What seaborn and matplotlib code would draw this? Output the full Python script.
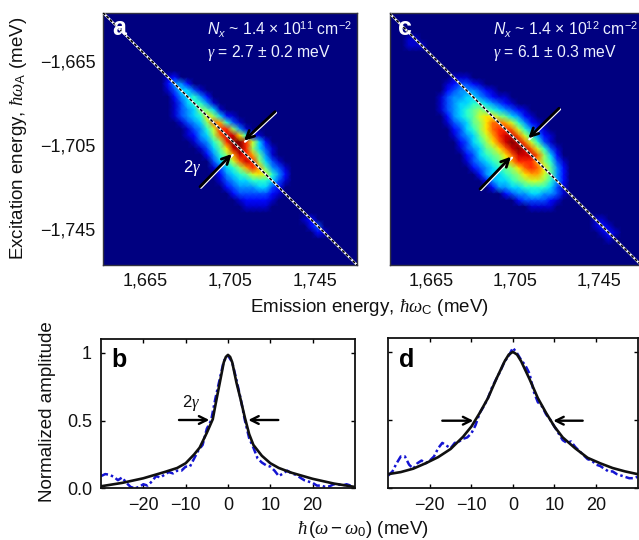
import numpy as np
import matplotlib
matplotlib.use("Agg")
import matplotlib.pyplot as plt
import seaborn as sns

# figure size in pixels
W = 639
H = 540

# heatmap cells, row: (first column, hex levels 0-f), everything else is 0
GRID_SIZE = 40
map_a = {
    10: (10, "12"),
    11: (10, "2442"),
    12: (10, "135531"),
    13: (11, "245642"),
    14: (11, "1356641"),
    15: (11, "13458751"),
    16: (11, "1345 6a8521".replace(" ", "")),
    17: (12, "13458cb631"),
    18: (13, "13469dd841"),
    19: (13, "12458ceea621"),
    20: (14, "13468dffd952"),
    21: (15, "1357aefd8531"),
    22: (16, "2468bedb741"),
    23: (17, "3569ced8531"),
    24: (17, "13568bdb7431"),
    25: (18, "245679a9642"),
    26: (18, "13455666531"),
    27: (19, "234445532"),
    28: (20, "23333321"),
    29: (21, "122221"),
    30: (22, "1111"),
    32: (31, "12"),
    33: (32, "23"),
    34: (33, "21"),
}
map_c = {
    4: (3, "11"),
    5: (3, "111"),
    10: (10, "111"),
    11: (9, "123321"),
    12: (9, "23444321"),
    13: (8, "13445543211"),
    14: (8, "134556654321"),
    15: (8, "13456787654321"),
    16: (9, "245679aa875421"),
    17: (9, "134578accb96421"),
    18: (10, "23568acddc96421"),
    19: (10, "134579bdeec96421"),
    20: (11, "23568acefec9631"),
    21: (11, "134578acefec9631"),
    22: (12, "235678aceeec852"),
    23: (12, "1345679bdddb8631"),
    24: (13, "2345678acdca742"),
    25: (14, "2455678abb9742"),
    26: (15, "2455678998642"),
    27: (16, "244556666531"),
    28: (18, "2344554431"),
    29: (20, "2333321"),
    30: (22, "1111"),
    32: (32, "11"),
    33: (32, "121"),
    34: (33, "121"),
    35: (34, "1"),
}

# axis ranges and ticks of the two maps (meV)
emission_range = [1645, 1765]
excitation_range = [-1642, -1762]
emission_ticks = [1665, 1705, 1745]
excitation_ticks = [-1665, -1705, -1745]
minor_emission = [1685, 1725]

# line cuts
detuning = list(range(-30, 31))
cut_b = [.09, .105, .10, .085, .06, .08, .04, .01, .0, .01, .03, .02, .05, .09, .08, .10,
         .12, .11, .13, .13, .16, .16, .22, .28, .32, .44, .50, .66, .80, .94, .98, .93,
         .80, .66, .50, .37, .30, .22, .19, .17, .16, .13, .09, .11, .13, .11, .10, .08,
         .06, .05, .04, .02, .02, .01, .015, .03, .03, .02, .03, .02, .0]
fit_x_b = [-30, -25, -20, -15, -12, -10, -8, -6.7, -5, -3.6, -3, -2, -1, -.5, 0,
           .5, 1, 2, 2.8, 4, 5, 6, 8, 10, 12, 15, 20, 25, 30]
fit_b = [.015, .04, .074, .12, .15, .185, .25, .30, .41, .51, .61, .77, .93, .97, .985,
         .97, .93, .78, .68, .52, .40, .32, .24, .185, .15, .115, .07, .035, .01]
cut_d = [.09, .12, .18, .23, .23, .17, .14, .18, .20, .18, .20, .23, .29, .33, .31, .29,
         .33, .34, .36, .37, .40, .46, .55, .60, .66, .74, .80, .86, .93, .97, 1.03, .99,
         .94, .90, .84, .71, .63, .60, .54, .50, .45, .40, .35, .33, .34, .30, .27, .24,
         .21, .20, .17, .16, .14, .12, .12, .10, .09, .08, .07, .07, .08]
fit_x_d = [-30, -27, -24, -21, -18, -15, -12, -10, -8, -6, -4, -2, -1, 0,
           1, 2, 4, 6, 8, 10, 12, 15, 18, 21, 24, 27, 30]
fit_d = [.10, .115, .14, .18, .225, .285, .375, .45, .55, .66, .80, .93, .98, 1.0,
         .98, .93, .80, .66, .55, .45, .37, .29, .22, .18, .145, .12, .10]

cut_xticks = [-20, -10, 0, 10, 20]
cut_yticks = [0, .5, 1]
cut_ytick_labels = ["0.0", "0.5", "1"]

sns.set_style("ticks")
plt.rcParams["font.family"] = ["Liberation Sans", "DejaVu Sans"]
plt.rcParams["mathtext.fontset"] = "custom"
plt.rcParams["mathtext.rm"] = "Liberation Sans"
plt.rcParams["mathtext.it"] = "Liberation Serif:italic"
plt.rcParams["mathtext.sf"] = "Liberation Sans:italic"
plt.rcParams["mathtext.bf"] = "Liberation Sans:bold"
plt.rcParams["mathtext.fallback"] = "stix"

fig = plt.figure(figsize=(W / 100, H / 100), dpi=100)


def add_axes_px(left, top, right, bottom):
    return fig.add_axes([left / W, 1 - bottom / H, (right - left) / W, (bottom - top) / H])


def fig_text(x, y, s, **kw):
    fig.text(x / W, 1 - y / H, s, **kw)


def arrow(x0, y0, x1, y1, color="black", lw=2.0):
    fig.add_artist(matplotlib.patches.FancyArrowPatch(
        (x0 / W, 1 - y0 / H), (x1 / W, 1 - y1 / H), transform=fig.transFigure,
        arrowstyle="->", mutation_scale=14, lw=lw, color=color,
        shrinkA=0, shrinkB=0, zorder=10))


def build_grid(rows):
    grid = np.zeros((GRID_SIZE, GRID_SIZE))
    for r, (c, levels) in rows.items():
        for i, ch in enumerate(levels):
            grid[r, c + i] = int(ch, 16) / 15
    return grid


def draw_map(ax, rows, show_y):
    sns.heatmap(build_grid(rows), ax=ax, cmap="jet", vmin=0, vmax=1, cbar=False,
                xticklabels=False, yticklabels=False, shading="gouraud")
    last = GRID_SIZE - 1
    ax.set_xlim(0, last)
    ax.set_ylim(last, 0)

    # energy to grid position
    def col(e):
        return (e - emission_range[0]) / (emission_range[1] - emission_range[0]) * last

    def row(e):
        return (e - excitation_range[0]) / (excitation_range[1] - excitation_range[0]) * last

    # diagonal
    dx = [col(emission_range[0]), col(emission_range[1])]
    dy = [row(excitation_range[0]), row(excitation_range[1])]
    ax.plot(dx, dy, color="white", lw=1.6, zorder=3)
    ax.plot(dx, dy, color="black", lw=1.1, ls=(0, (2, 1.2)), zorder=4)

    ax.set_xticks([col(e) for e in sorted(emission_ticks + minor_emission)])
    ax.set_xticklabels(["1,665", "", "1,705", "", "1,745"])
    ax.set_yticks([row(e) for e in excitation_ticks])
    if show_y:
        ax.set_yticklabels([f"\u2212{abs(e):,}" for e in excitation_ticks])
    else:
        ax.set_yticklabels([])
    ax.tick_params(direction="in", length=2.5, width=.8, labelsize=13, top=True, right=True,
                   color="#222222", labelcolor="#111111", pad=5.5, bottom=True, left=True)
    for side in ax.spines.values():
        side.set_visible(True)
        side.set_linewidth(1.0)
        side.set_color("#333340")


def draw_cut(ax, cut, fit_x, fit_y, show_y):
    sns.lineplot(x=detuning, y=cut, ax=ax, color="#1414d2", lw=1.8, linestyle=(0, (3, 1.2, 1, 1.2)),
                 errorbar=None)
    sns.lineplot(x=fit_x, y=fit_y, ax=ax, color="#101010", lw=1.9, errorbar=None)
    ax.set_xlim(-30, 30)
    ax.set_ylim(0, 1.1)
    ax.set_xticks(cut_xticks)
    ax.set_xticklabels([str(t).replace("-", "\u2212") for t in cut_xticks])
    ax.set_yticks(cut_yticks)
    ax.set_yticklabels(cut_ytick_labels if show_y else [])
    ax.tick_params(direction="in", length=3, width=1, labelsize=13, top=True, right=True,
                   bottom=True, left=True, color="black", labelcolor="#111111", pad=6.5)
    for side in ax.spines.values():
        side.set_visible(True)
        side.set_linewidth(1.3)
        side.set_color("#111111")


ax_a = add_axes_px(103, 12.7, 357, 265)
ax_c = add_axes_px(389.5, 13.3, 641, 265)
ax_b = add_axes_px(101, 339.3, 355, 488.3)
ax_d = add_axes_px(388.3, 338.3, 637.5, 487.7)

draw_map(ax_a, map_a, True)
draw_map(ax_c, map_c, False)
draw_cut(ax_b, cut_b, fit_x_b, fit_b, True)
draw_cut(ax_d, cut_d, fit_x_d, fit_d, False)

# arrows on the maps, white edge first
for x0, y0, x1, y1 in [(275, 111.7, 244, 140.7), (200, 186.7, 231.7, 154),
                       (559, 108.3, 528.3, 138.3), (480, 189, 511, 156.7)]:
    fig.add_artist(plt.Line2D([(x0 + 1) / W, (x1 + 1) / W], [1 - (y0 + 1) / H, 1 - (y1 + 1) / H],
                              color="white", lw=1.6, zorder=9))
    arrow(x0, y0, x1, y1)

# arrows on the cuts
arrow(179, 420, 209.3, 420, lw=1.7)
arrow(278.3, 420, 248.3, 420, lw=1.7)
arrow(442.3, 420.7, 473.3, 420.7, lw=1.7)
arrow(582.7, 420.7, 553.3, 420.7, lw=1.7)

# panel letters
for x, y, s, c in [(112, 35, "a", "white"), (398, 35, "c", "white"),
                   (111.5, 366.7, "b", "black"), (399.3, 366.7, "d", "black")]:
    fig_text(x, y, s, color=c, fontsize=18, fontweight="bold", ha="left", va="baseline", zorder=12)

# annotations on the maps
small = dict(color="#eef2ff", fontsize=11.3, ha="left", va="baseline", zorder=12)
fig_text(206.7, 35, r"$\mathsf{N_x}$ ~ 1.4 $\times$ 10$^{11}$ cm$^{-2}$", **small)
fig_text(207, 56.7, r"$\gamma$ = 2.7 $\pm$ 0.2 meV", **small)
fig_text(493.3, 35, r"$\mathsf{N_x}$ ~ 1.4 $\times$ 10$^{12}$ cm$^{-2}$", **small)
fig_text(493.3, 56.7, r"$\gamma$ = 6.1 $\pm$ 0.3 meV", **small)
fig_text(183, 171.7, r"2$\gamma$", color="white", fontsize=12, ha="left", va="baseline", zorder=12)
fig_text(181.7, 407.3, r"2$\gamma$", color="#111111", fontsize=12, ha="left", va="baseline", zorder=12)

# axis titles
label = dict(color="#111111", fontsize=13.5, ha="center", va="center")
fig_text(369, 308, r"Emission energy, $\hbar\omega_{\mathrm{C}}$ (meV)", **label)
fig_text(363, 529, r"$\hbar\,(\omega-\omega_0)$ (meV)", **label)
fig_text(18.5, 138, r"Excitation energy, $\hbar\omega_{\mathrm{A}}$ (meV)", rotation=90, **label)
fig_text(48, 412, "Normalized amplitude", rotation=90, **label)

fig.savefig("out.png", dpi=100)
